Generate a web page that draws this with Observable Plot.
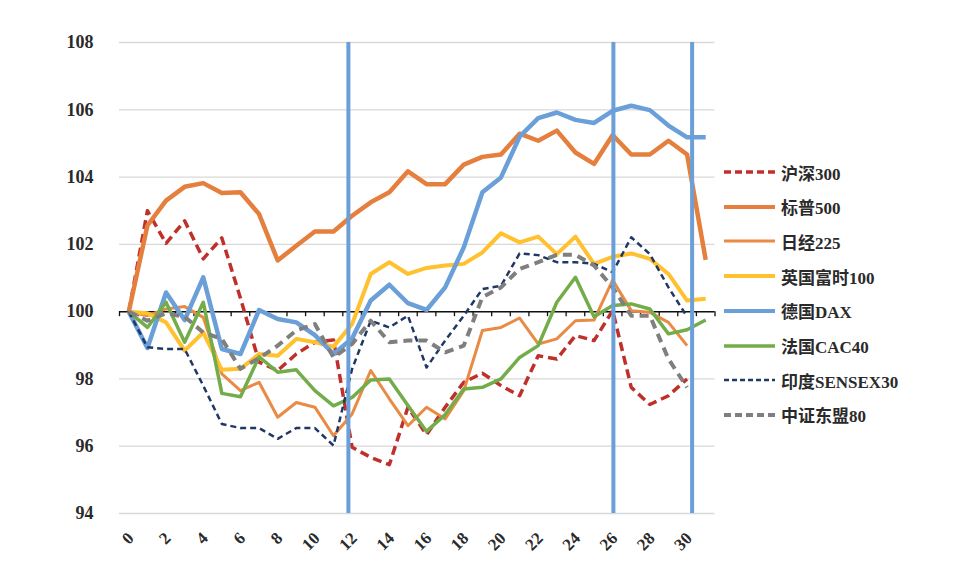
<!DOCTYPE html>
<html><head><meta charset="utf-8">
<script src="https://cdn.jsdelivr.net/npm/d3@7"></script>
<script src="https://cdn.jsdelivr.net/npm/@observablehq/plot@0.6"></script>
<style>
html,body{margin:0;padding:0;background:#fff;}
#wrap{position:relative;width:960px;height:574px;overflow:hidden;}
#legend{position:absolute;left:723px;top:0;}
.item{position:absolute;left:0;height:24px;display:flex;align-items:center;white-space:nowrap;font-family:"Liberation Serif","Noto Sans CJK SC",serif;font-size:17px;font-weight:bold;color:#2a2a2a;}
.item svg{margin-right:5px;}
</style></head>
<body><div id="wrap"><div id="chart"></div><div id="legend"></div></div>
<script>
const days = [0,1,2,3,4,5,6,7,8,9,10,11,12,13,14,15,16,17,18,19,20,21,22,23,24,25,26,27,28,29,30,31];
const xTickLabels = [0,2,4,6,8,10,12,14,16,18,20,22,24,26,28,30];
const yTickLabels = [94,96,98,100,102,104,106,108];
const markerDays = [11.8, 26.04, 30.27];

const hs300  = [100,103.0,102.03,102.7,101.57,102.19,100.4,98.5,98.25,98.74,99.09,99.16,95.97,95.67,95.45,97.16,96.34,97.16,97.9,98.17,97.8,97.5,98.69,98.59,99.29,99.14,100.03,97.75,97.24,97.5,98.0];
const sp500  = [100,102.56,103.3,103.71,103.82,103.53,103.55,102.9,101.52,101.96,102.38,102.38,102.85,103.25,103.55,104.17,103.79,103.79,104.37,104.6,104.67,105.29,105.08,105.38,104.73,104.39,105.25,104.67,104.67,105.08,104.67,101.54];
const nikkei = [100,99.88,100.08,100.15,99.83,98.15,97.65,97.9,96.86,97.3,97.16,96.31,96.96,98.25,97.41,96.61,97.16,96.81,97.65,99.44,99.53,99.81,99.04,99.19,99.73,99.75,100.94,100.03,99.98,99.68,98.99];
const ftse   = [100,99.95,99.68,98.84,99.38,98.27,98.3,98.74,98.69,99.19,99.09,98.96,99.63,101.12,101.47,101.12,101.3,101.37,101.42,101.76,102.33,102.06,102.23,101.71,102.23,101.42,101.63,101.73,101.57,101.12,100.33,100.38];
const dax    = [100,98.92,100.57,99.75,101.02,98.89,98.74,100.05,99.78,99.68,99.3,98.74,99.2,100.33,100.8,100.25,100.05,100.72,101.91,103.55,103.99,105.2,105.75,105.92,105.7,105.61,105.97,106.12,105.99,105.53,105.18,105.18];
const cac    = [100,99.53,100.28,99.09,100.28,97.57,97.47,98.66,98.2,98.27,97.65,97.2,97.45,97.97,98.0,97.21,96.44,96.94,97.7,97.75,98.0,98.64,98.99,100.28,101.02,99.85,100.18,100.23,100.08,99.34,99.46,99.75];
const sensex = [100,98.94,98.89,98.89,97.8,96.66,96.54,96.54,96.22,96.54,96.54,96.02,98.3,99.73,99.53,99.88,98.34,99.14,99.88,100.67,100.77,101.73,101.68,101.47,101.47,101.42,101.17,102.21,101.71,100.72,99.85];
const asean80= [100,99.73,99.95,99.85,99.38,99.19,98.3,98.62,98.99,99.44,99.63,98.64,99.04,99.73,99.09,99.14,99.14,98.79,98.99,100.43,100.72,101.27,101.47,101.69,101.69,101.37,100.72,99.88,99.88,98.59,97.75];

const series = [
  {name:"沪深300",     values:hs300,  color:"#C0302A", width:3.5, dash:"9,5"},
  {name:"标普500",     values:sp500,  color:"#E47F3E", width:4.5, dash:null},
  {name:"日经225",     values:nikkei, color:"#E98A45", width:3,   dash:null},
  {name:"英国富时100", values:ftse,   color:"#FFC12E", width:4,   dash:null},
  {name:"德国DAX",     values:dax,    color:"#6A9FD8", width:4.5, dash:null},
  {name:"法国CAC40",   values:cac,    color:"#72AD4A", width:3.5, dash:null},
  {name:"印度SENSEX30",values:sensex, color:"#203864", width:2.5, dash:"6,4"},
  {name:"中证东盟80",  values:asean80,color:"#7F7F7F", width:4,   dash:"9,6"}
];

const boundaries = d3.range(-0.5, 32, 1);

const marks = [
  Plot.gridY(yTickLabels, {stroke:"#d9d9d9", strokeOpacity:1, strokeWidth:1.3}),
  Plot.axisY(yTickLabels, {tickSize:0, tickPadding:26, fontSize:18, fontWeight:"bold", fill:"#2a2a2a", label:null}),
  Plot.axisX(xTickLabels, {tickSize:0, tickPadding:22, tickRotate:-45, fontSize:17, fontWeight:"bold", fill:"#2a2a2a", dx:2, label:null}),
  Plot.ruleY([100], {stroke:"#111", strokeWidth:1.5}),
  Plot.ruleX(boundaries, {x:d=>d, y1:100, y2:99.85, stroke:"#111", strokeWidth:1.3})
];
for (const s of series) {
  const rows = s.values.map((v,i)=>({day:days[i], value:v}));
  marks.push(Plot.line(rows, {x:"day", y:"value", stroke:s.color, strokeWidth:s.width,
    strokeDasharray:s.dash || undefined, strokeLinejoin:"round", strokeLinecap:"butt"}));
}
marks.push(Plot.ruleX(markerDays, {x:d=>d, y1:94, y2:108, stroke:"#6A9FD8", strokeWidth:4}));

const chart = Plot.plot({
  width:960, height:574,
  marginLeft:119, marginRight:245.5, marginTop:42, marginBottom:61,
  x:{domain:[-0.5,31.5], axis:null},
  y:{domain:[94,108], axis:null},
  style:{fontFamily:"'Liberation Serif', serif", color:"#222", background:"#fff"},
  marks
});
document.getElementById("chart").appendChild(chart);

const legend = document.getElementById("legend");
series.forEach((s,i)=>{
  const d = document.createElement("div");
  d.className = "item";
  d.style.top = (172 + i*34.7 - 12) + "px";
  d.innerHTML = `<svg width="53" height="10"><line x1="1" y1="5" x2="52" y2="5" stroke="${s.color}" stroke-width="${Math.min(s.width,4)}" ${s.dash?`stroke-dasharray="${s.dash==='6,4'?'5,3':'7,4'}"`:''}/></svg><span>${s.name}</span>`;
  legend.appendChild(d);
});
</script>
</body></html>
